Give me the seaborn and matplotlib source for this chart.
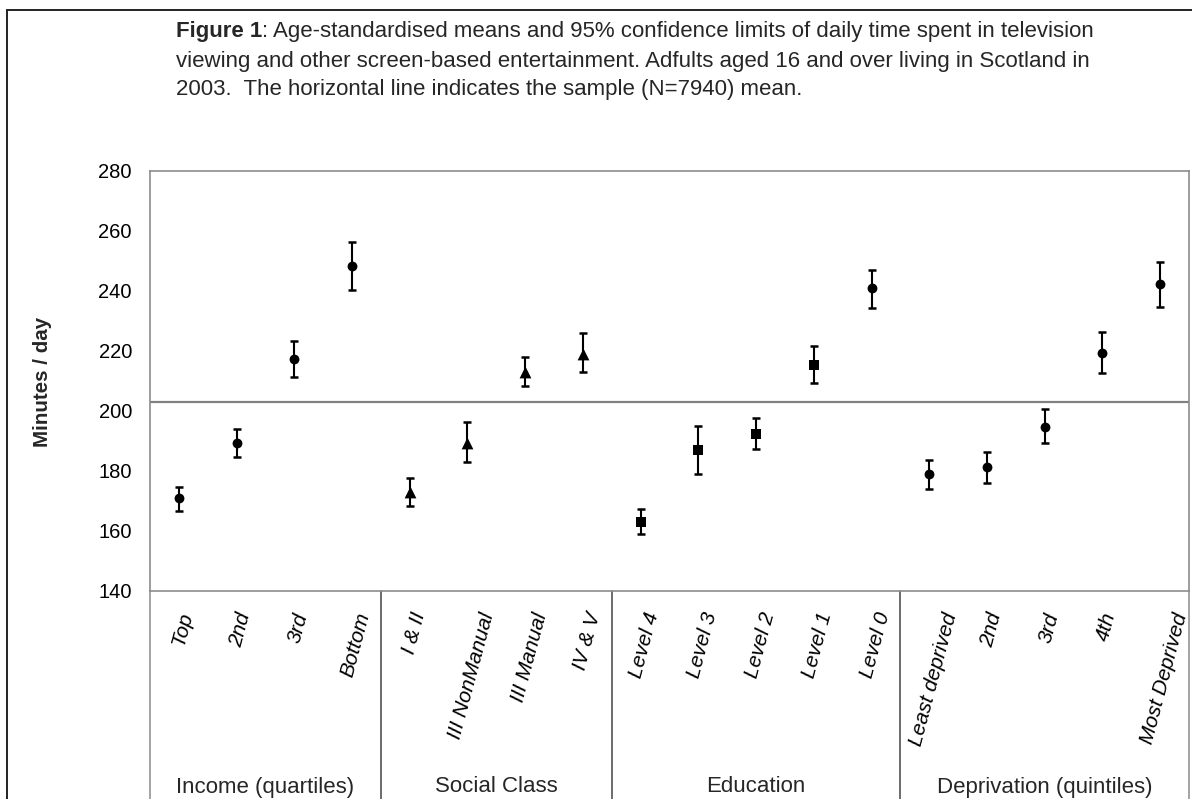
import numpy as np
import pandas as pd
import matplotlib
matplotlib.use("Agg")
import matplotlib.pyplot as plt
import seaborn as sns
from matplotlib.transforms import blended_transform_factory, ScaledTranslation
from matplotlib.lines import Line2D
from matplotlib.patches import Rectangle

# ---------------- data ----------------
tick_labels = ["Top", "2nd", "3rd", "Bottom",
               "I & II", "III NonManual", "III Manual", "IV & V",
               "Level 4", "Level 3", "Level 2", "Level 1", "Level 0",
               "Least deprived", "2nd", "3rd", "4th", "Most Deprived"]
groups = ["Income (quartiles)", "Social Class", "Education", "Deprivation (quintiles)"]
group_sizes = [4, 4, 5, 5]
means = [170.9, 189.2, 217.3, 248.3,
         172.9, 189.4, 213.0, 218.9,
         163.0, 186.9, 192.4, 215.4, 240.9,
         178.9, 181.2, 194.8, 219.2, 242.2]
lower = [166.7, 184.6, 211.2, 240.2,
         168.4, 183.0, 208.4, 213.0,
         159.1, 178.9, 187.2, 209.3, 234.2,
         174.1, 176.1, 189.2, 212.7, 234.8]
upper = [174.8, 194.0, 223.4, 256.3,
         177.6, 196.3, 217.9, 226.0,
         167.2, 194.9, 197.8, 221.7, 247.0,
         183.7, 186.4, 200.7, 226.3, 249.8]
shapes = ["circle"] * 4 + ["triangle"] * 4 + ["square"] * 4 + ["circle"] + ["circle"] * 5
sample_mean = 203.0
yticks = [140, 160, 180, 200, 220, 240, 260, 280]

df = pd.DataFrame({"pos": np.arange(len(tick_labels)), "label": tick_labels,
                   "mean": means, "lower": lower, "upper": upper, "shape": shapes})

# ---------------- style ----------------
sns.set_style("white")
plt.rcParams["font.family"] = ["Liberation Sans", "DejaVu Sans"]

W, H = 1192, 799
fig = plt.figure(figsize=(W / 100, H / 100), dpi=100)
ax_left, ax_right, ax_top, ax_bottom = 150, 1189, 171, 591
ax = fig.add_axes([ax_left / W, 1 - ax_bottom / H, (ax_right - ax_left) / W, (ax_bottom - ax_top) / H])

# mean line
ax.axhline(sample_mean, color="#808080", lw=1.6, zorder=1)

# error bars
yerr = [df["mean"] - df["lower"], df["upper"] - df["mean"]]
ax.errorbar(df["pos"], df["mean"], yerr=yerr, fmt="none", ecolor="black",
            elinewidth=1.5, capsize=3.0, capthick=1.8, zorder=2)

# points
marker_map = {"circle": ("o", 50), "triangle": ("^", 72), "square": ("s", 48)}
for shp, (mk, sz) in marker_map.items():
    sub = df[df["shape"] == shp]
    sns.scatterplot(data=sub, x="pos", y="mean", marker=mk, s=sz, color="black",
                    edgecolor="black", linewidth=0, ax=ax, legend=False, zorder=3)

ax.set_xlim(-0.5, len(tick_labels) - 0.5)
ax.set_ylim(140, 280)
ax.set_yticks(yticks)
ax.set_yticklabels([str(v) for v in yticks], fontsize=14.5)
ax.set_xticks(df["pos"])
ax.set_xticklabels(tick_labels, rotation=75, fontsize=15, style="italic",
                   ha="center", va="top", rotation_mode="default")
ax.tick_params(axis="y", length=0, pad=13, colors="black")
ax.tick_params(axis="x", length=0, pad=14, colors="black")
shift = ScaledTranslation(4 / 100, 0, fig.dpi_scale_trans)
for lab in ax.get_xticklabels():
    lab.set_transform(lab.get_transform() + shift)
ax.set_xlabel("")
ax.set_ylabel("")
for s in ax.spines.values():
    s.set_color("#8c8c8c")
    s.set_linewidth(1.2)

# separators in the category area
bt = ax.get_xaxis_transform()
bounds = np.concatenate([[0], np.cumsum(group_sizes)]) - 0.5
for i, b in enumerate(bounds):
    col = "#8c8c8c" if i in (0, len(bounds) - 1) else "#444444"
    ax.add_line(Line2D([b, b], [0, -0.6], transform=bt, color=col, lw=1.1, clip_on=False))

# group labels
gt = blended_transform_factory(ax.transData, fig.transFigure)
for g, lo, hi in zip(groups, bounds[:-1], bounds[1:]):
    ax.text((lo + hi) / 2, 1 - 787 / H, g, transform=gt, ha="center", va="center", fontsize=16)

# y label
fig.text(43 / W, 1 - 382 / H, "Minutes / day", rotation=90, ha="center", va="center",
         fontsize=14.8, fontweight="bold")

# title
tx = 176 / W
tfs = 16
t1 = fig.text(tx, 1 - 37.5 / H, "Figure 1", fontsize=tfs, fontweight="bold", va="baseline")
fig.canvas.draw()
r = fig.canvas.get_renderer()
bb = t1.get_window_extent(r)
fig.text(bb.x1 / W, 1 - 37.5 / H,
         ": Age-standardised means and 95% confidence limits of daily time spent in television",
         fontsize=tfs, va="baseline")
fig.text(tx, 1 - 66.5 / H, "viewing and other screen-based entertainment. Adfults aged 16 and over living in Scotland in",
         fontsize=tfs, va="baseline")
fig.text(tx, 1 - 95.5 / H, "2003.  The horizontal line indicates the sample (N=7940) mean.",
         fontsize=tfs, va="baseline")

# outer frame (cropped at right/bottom)
fig.patches.append(Rectangle((7 / W, -0.2), 1.2, (1 - 10 / H) + 0.2, transform=fig.transFigure,
                             fill=False, edgecolor="#222222", lw=1.4, clip_on=False))

fig.savefig("out.png", dpi=100, facecolor="white")
